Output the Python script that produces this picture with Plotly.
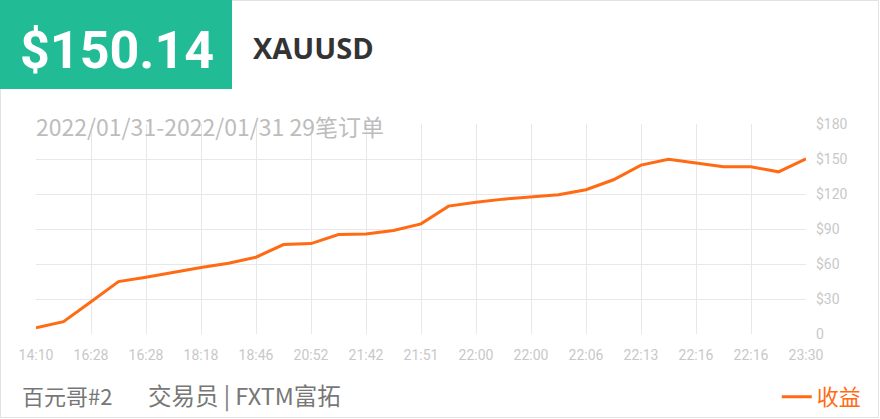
import plotly.graph_objects as go

# ---- data ----
order_index = list(range(29))
profit = [5.4, 10.6, 27.7, 44.9, 48.7, 53.0, 57.0, 60.7, 65.8, 76.7,
          77.5, 85.2, 85.8, 88.7, 94.4, 109.6, 113.0, 115.6, 117.6, 119.4,
          123.7, 132.2, 144.8, 149.7, 146.5, 143.3, 143.3, 139.0, 150.14]
tick_positions = list(range(0, 29, 2))
tick_labels = ["14:10", "16:28", "16:28", "18:18", "18:46", "20:52", "21:42", "21:51",
               "22:00", "22:00", "22:06", "22:13", "22:16", "22:16", "23:30"]
y_ticks = [0, 30, 60, 90, 120, 150, 180]
y_labels = ["0", "$30", "$60", "$90", "$120", "$150", "$180"]
total_label = "$150.14"
symbol = "XAUUSD"
subtitle = "2022/01/31-2022/01/31 29笔订单"
trader_name = "百元哥#2"
trader_info = "交易员 | FXTM富拓"
series_name = "收益"

W, H = 880, 419
L, R, T, B = 36, 806, 124, 334
pw, ph = R - L, B - T

def px(x):
    return (x - L) / pw

def py(y):
    return (B - y) / ph

ORANGE = "#ff6a13"
GREEN = "#21bc96"
GRID = "#e8e8e8"
TICKFONT = "Liberation Sans Narrow, Roboto"

fig = go.Figure()
fig.add_trace(go.Scatter(
    x=order_index, y=profit, mode="lines", name=series_name,
    line=dict(color=ORANGE, width=3), showlegend=True,
))

fig.update_layout(
    width=W, height=H,
    margin=dict(l=L, r=W - R, t=T, b=H - B, pad=0),
    paper_bgcolor="white", plot_bgcolor="white",
    xaxis=dict(range=[0, 28], tickmode="array", tickvals=tick_positions, ticktext=tick_labels,
               showgrid=True, gridcolor=GRID, gridwidth=1, zeroline=False,
               showline=False, ticks="", ticklabelstandoff=11,
               tickfont=dict(family=TICKFONT, size=14, color="#c8c8c8")),
    yaxis=dict(range=[0, 180], side="right", tickmode="array", tickvals=y_ticks, ticktext=y_labels,
               showgrid=True, gridcolor=GRID, gridwidth=1, zeroline=False,
               showline=False, ticks="", ticklabelstandoff=9,
               tickfont=dict(family=TICKFONT, size=14, color="#c8c8c8")),
    legend=dict(orientation="h", xref="container", yref="container",
                x=0.985, xanchor="right", y=1 - 397 / H, yanchor="middle",
                itemwidth=30, bgcolor="rgba(0,0,0,0)",
                font=dict(family="Noto Sans CJK SC", size=22, color=ORANGE)),
    shapes=[
        dict(type="rect", xref="paper", yref="paper",
             x0=px(0.5), x1=px(878.5), y0=py(0.5), y1=py(417.5),
             line=dict(color="#e2e2e2", width=1), fillcolor="rgba(0,0,0,0)", layer="below"),
        dict(type="rect", xref="paper", yref="paper",
             x0=px(0), x1=px(232), y0=py(0), y1=py(89),
             line=dict(width=0), fillcolor=GREEN, layer="below"),
    ],
    annotations=[
        dict(text=total_label, xref="paper", yref="paper", x=px(117), y=py(51),
             xanchor="center", yanchor="middle", showarrow=False,
             font=dict(family="Roboto", size=52, color="white", weight="bold")),
        dict(text=symbol, xref="paper", yref="paper", x=px(251), y=py(48),
             xanchor="left", yanchor="middle", showarrow=False,
             font=dict(family="Open Sans", size=29, color="#333333", weight="bold")),
        dict(text=subtitle, xref="paper", yref="paper", x=px(34), y=py(126),
             xanchor="left", yanchor="middle", showarrow=False,
             font=dict(family="Noto Sans CJK SC", size=23, color="#bdbdbd")),
        dict(text=trader_name, xref="paper", yref="paper", x=px(20), y=py(395),
             xanchor="left", yanchor="middle", showarrow=False,
             font=dict(family="Noto Sans CJK SC", size=22, color="#777777")),
        dict(text=trader_info, xref="paper", yref="paper", x=px(146), y=py(395),
             xanchor="left", yanchor="middle", showarrow=False,
             font=dict(family="Noto Sans CJK SC", size=23.5, color="#777777")),
    ],
)

fig.write_html("out.html", config={"displayModeBar": False},
               post_script="document.body.style.margin='0px';")
